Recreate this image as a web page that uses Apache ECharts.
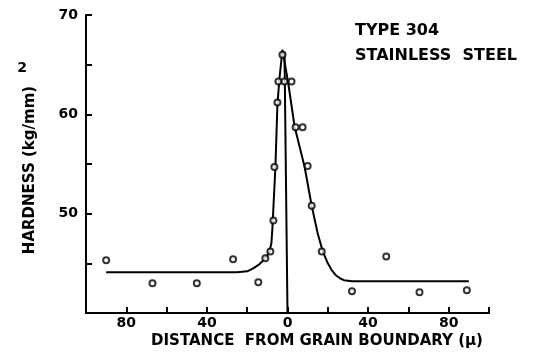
<!DOCTYPE html>
<html>
<head>
<meta charset="utf-8">
<script src="https://cdn.jsdelivr.net/npm/echarts@6/dist/echarts.min.js"></script>
<style>html,body{margin:0;padding:0;background:#fff;}#c{width:536px;height:354px;}</style>
</head>
<body>
<div id="c"></div>
<script>
// Measured hardness points (distance µ, hardness kg/mm^2)
const pointX = [-90, -67, -45, -27, -14.5, -11, -8.5, -7, -6.5, -5, -4.5, -1.5, 2, -2.5, 4, 7.5, 10, 12, 17, 32, 49, 65.5, 89];
const pointY = [45.3, 43.0, 43.0, 45.4, 43.1, 45.5, 46.2, 49.3, 54.7, 61.2, 63.3, 63.3, 63.3, 66.0, 58.7, 58.7, 54.8, 50.8, 46.2, 42.2, 45.7, 42.1, 42.3];
// Fitted curve
const curveX = [-90, -25, -20, -17, -14, -12, -10, -9, -8, -7.5, -6, -5, -4, -2.5, 0.4, 3.5, 8.5, 12, 15, 17.5, 20, 22, 24, 26, 28, 32, 90];
const curveY = [44.1, 44.1, 44.2, 44.5, 44.9, 45.3, 45.8, 46.2, 47.0, 48.5, 54.7, 61.0, 63.6, 66.5, 63.1, 58.8, 54.7, 50.8, 48.0, 46.2, 45.0, 44.3, 43.8, 43.5, 43.3, 43.2, 43.2];
// Grain boundary line
const boundaryX = [0, -1.5];
const boundaryY = [40, 66.3];
// Axis ticks
const xTickLabels = [-80, -40, 0, 40, 80];
const yTickLabels = [50, 60, 70];

const FONT = 'DejaVu Sans';
const zip = (a, b) => a.map((v, i) => [v, b[i]]);

const chart = echarts.init(document.getElementById('c'));
chart.setOption({
  animation: false,
  backgroundColor: '#fff',
  grid: { left: 86, right: 47, top: 15, bottom: 41 },
  xAxis: {
    type: 'value', min: -100, max: 100, interval: 20,
    axisLine: { onZero: false, lineStyle: { color: '#000', width: 2 } },
    axisTick: { inside: true, length: 6, lineStyle: { color: '#000', width: 2 } },
    splitLine: { show: false },
    axisLabel: {
      margin: 3, color: '#000', fontFamily: FONT, fontWeight: 'bold', fontSize: 14,
      formatter: v => xTickLabels.indexOf(v) >= 0 ? String(Math.abs(v)) : ''
    }
  },
  yAxis: {
    type: 'value', min: 40, max: 70, interval: 5,
    axisLine: { onZero: false, lineStyle: { color: '#000', width: 2 } },
    axisTick: { inside: true, length: 6, lineStyle: { color: '#000', width: 2 } },
    splitLine: { show: false },
    axisLabel: {
      margin: 8, color: '#000', fontFamily: FONT, fontWeight: 'bold', fontSize: 14,
      formatter: v => yTickLabels.indexOf(v) >= 0 ? String(v) : ''
    }
  },
  graphic: [
    { type: 'text', left: 355, top: 23, style: { text: 'TYPE 304', font: 'bold 16px ' + FONT, fill: '#000' } },
    { type: 'text', left: 355, top: 48, style: { text: 'STAINLESS  STEEL', font: 'bold 16px ' + FONT, fill: '#000' } },
    { type: 'text', x: 30, y: 170, rotation: Math.PI / 2,
      style: { text: 'HARDNESS (kg/mm)', font: 'bold 15px ' + FONT, fill: '#000', align: 'center', verticalAlign: 'middle' } },
    { type: 'text', x: 22, y: 68, style: { text: '2', font: 'bold 14px ' + FONT, fill: '#000', align: 'center', verticalAlign: 'middle' } },
    { type: 'text', x: 317, y: 341, style: { text: 'DISTANCE  FROM GRAIN BOUNDARY (\u03bc)', font: 'bold 15px ' + FONT, fill: '#000', align: 'center', verticalAlign: 'middle' } }
  ],
  series: [
    { type: 'line', data: zip(curveX, curveY), showSymbol: false, symbol: 'none', smooth: false,
      lineStyle: { color: '#000', width: 2 }, z: 2 },
    { type: 'line', data: zip(boundaryX, boundaryY), showSymbol: false, symbol: 'none',
      lineStyle: { color: '#000', width: 2 }, z: 2 },
    { type: 'scatter', data: zip(pointX, pointY), symbol: 'circle', symbolSize: 6,
      itemStyle: { color: '#fff', borderColor: '#000', borderWidth: 2 }, z: 3 }
  ]
});
</script>
</body>
</html>
